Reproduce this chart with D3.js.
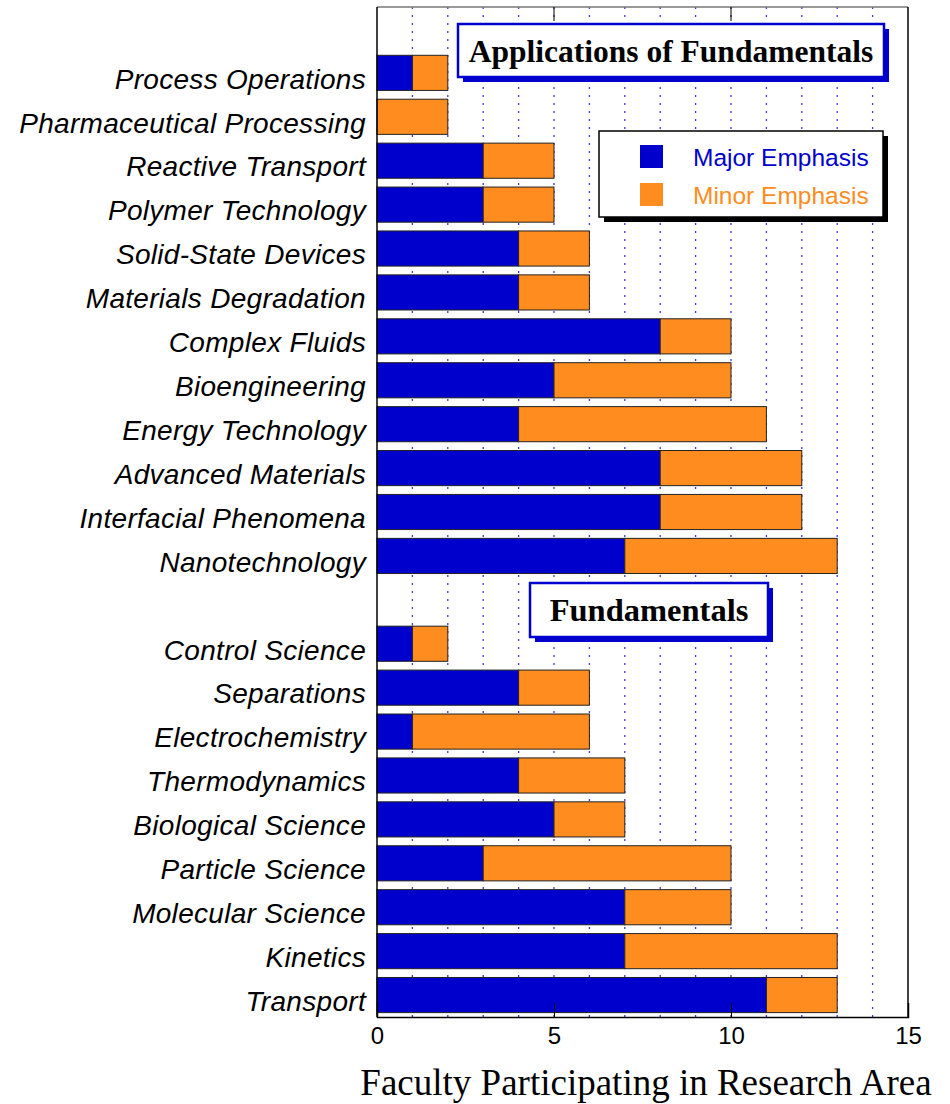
<!DOCTYPE html>
<html><head><meta charset="utf-8">
<script src="https://cdn.jsdelivr.net/npm/d3@7"></script>
<style>body{margin:0;background:#fff}</style>
</head><body>
<script>
// ---- data ----
const appCategories = ["Process Operations","Pharmaceutical Processing","Reactive Transport","Polymer Technology","Solid-State Devices","Materials Degradation","Complex Fluids","Bioengineering","Energy Technology","Advanced Materials","Interfacial Phenomena","Nanotechnology"];
const appMajor = [1,0,3,3,4,4,8,5,4,8,8,7];
const appMinor = [1,2,2,2,2,2,2,5,7,4,4,6];
const fundCategories = ["Control Science","Separations","Electrochemistry","Thermodynamics","Biological Science","Particle Science","Molecular Science","Kinetics","Transport"];
const fundMajor = [1,4,1,4,5,3,7,7,11];
const fundMinor = [1,2,5,3,2,7,3,6,2];
const xTicks = [0,5,10,15];
const seriesNames = ["Major Emphasis","Minor Emphasis"];
const groupTitles = ["Applications of Fundamentals","Fundamentals"];
const axisTitle = "Faculty Participating in Research Area";

const BLUE = "#0000cc", ORANGE = "#ff8c1e";
const W = 950, H = 1104;
const L = 377, R = 908, T = 7, B = 1017;
const SANS = "Liberation Sans, Arial, sans-serif";
const SERIF = "Liberation Serif, Times New Roman, serif";

const svg = d3.select("body").append("svg").attr("width", W).attr("height", H);

// slots: blank top, apps, blank gap, fundamentals
const slots = ["__top"].concat(appCategories, ["__gap"], fundCategories);
const y = d3.scaleBand().domain(slots).range([T, B]).padding(0);
const x = d3.scaleLinear().domain([0, 15]).range([L, R]);

const rows = appCategories.map((c,i)=>({c, major: appMajor[i], minor: appMinor[i]}))
  .concat(fundCategories.map((c,i)=>({c, major: fundMajor[i], minor: fundMinor[i]})));

// grid lines
svg.append("g").selectAll("line").data(d3.range(1, 15)).join("line")
  .attr("x1", d=>x(d)).attr("x2", d=>x(d)).attr("y1", T).attr("y2", B)
  .attr("stroke", "#3a3ae0").attr("stroke-width", 1.3).attr("stroke-dasharray", "2,6");

// bars
const bh = y.bandwidth()*0.8, off = y.bandwidth()*0.1;
const g = svg.append("g");
rows.forEach(r => {
  if (r.major > 0) g.append("rect").attr("x", x(0)).attr("y", y(r.c)+off)
    .attr("width", x(r.major)-x(0)).attr("height", bh)
    .attr("fill", BLUE).attr("stroke", "#222").attr("stroke-width", 1);
  g.append("rect").attr("x", x(r.major)).attr("y", y(r.c)+off)
    .attr("width", x(r.major+r.minor)-x(r.major)).attr("height", bh)
    .attr("fill", ORANGE).attr("stroke", "#222").attr("stroke-width", 1);
});

// frame
svg.append("line").attr("x1", L).attr("x2", R).attr("y1", T).attr("y2", T).attr("stroke", "#777").attr("stroke-width", 1.5);
svg.append("line").attr("x1", L).attr("x2", L).attr("y1", T).attr("y2", B).attr("stroke", "#000").attr("stroke-width", 1.5);
svg.append("line").attr("x1", R).attr("x2", R).attr("y1", T).attr("y2", B).attr("stroke", "#000").attr("stroke-width", 1.5);

// x axis
const xAxis = d3.axisBottom(x).tickValues(xTicks).tickSize(-14).tickPadding(10).tickFormat(d3.format("d"));
const ax = svg.append("g").attr("transform", `translate(0,${B})`).call(xAxis);
ax.select(".domain").attr("stroke", "#000").attr("stroke-width", 1.5);
ax.selectAll(".tick line").attr("stroke", "#000");
ax.selectAll(".tick text").attr("font-family", SANS).attr("font-size", 24).attr("fill", "#000").attr("dy", "0.72em");
// top ticks
svg.append("g").selectAll("line").data([5,10]).join("line")
  .attr("x1", d=>x(d)).attr("x2", d=>x(d)).attr("y1", T).attr("y2", T+14).attr("stroke", "#000");

// category labels
svg.append("g").selectAll("text").data(rows).join("text")
  .attr("x", L-11).attr("y", d=>y(d.c)+y.bandwidth()/2+6)
  .attr("dy", "0.35em").attr("text-anchor", "end")
  .attr("font-family", SANS).attr("font-style", "italic")
  .attr("font-size", 28).attr("letter-spacing", "0.3px").attr("fill", "#000").text(d=>d.c);

// axis title
svg.append("text").attr("x", 646).attr("y", 1095).attr("text-anchor", "middle")
  .attr("font-family", SERIF).attr("font-size", 37).attr("fill", "#000")
  .text(axisTitle);

// group title boxes
function titleBox(x0, y0, w, h, text, fs) {
  svg.append("rect").attr("x", x0+5).attr("y", y0+5).attr("width", w).attr("height", h).attr("fill", BLUE);
  svg.append("rect").attr("x", x0).attr("y", y0).attr("width", w).attr("height", h).attr("fill", "#fff").attr("stroke", BLUE).attr("stroke-width", 2.5);
  svg.append("text").attr("x", x0+w/2).attr("y", y0+h/2).attr("dy", "0.35em").attr("text-anchor", "middle")
    .attr("font-family", SERIF).attr("font-weight", "bold").attr("font-size", fs).attr("fill", "#000").text(text);
}
titleBox(458, 24, 426, 53, groupTitles[0], 31.5);
titleBox(530, 583, 238, 54, groupTitles[1], 32.5);

// legend
svg.append("rect").attr("x", 604).attr("y", 136).attr("width", 284).attr("height", 86).attr("fill", "#000");
svg.append("rect").attr("x", 599).attr("y", 131).attr("width", 284).attr("height", 86).attr("fill", "#fff").attr("stroke", "#000").attr("stroke-width", 1.5);
const legColors = [BLUE, ORANGE];
seriesNames.forEach((n,i)=>{
  const yy = 145 + i*38;
  svg.append("rect").attr("x", 640).attr("y", yy).attr("width", 23).attr("height", 23).attr("fill", legColors[i]);
  svg.append("text").attr("x", 693).attr("y", yy+12).attr("dy", "0.35em")
    .attr("font-family", SANS).attr("font-size", 24.5).attr("fill", legColors[i]).text(n);
});
</script>
</body></html>
